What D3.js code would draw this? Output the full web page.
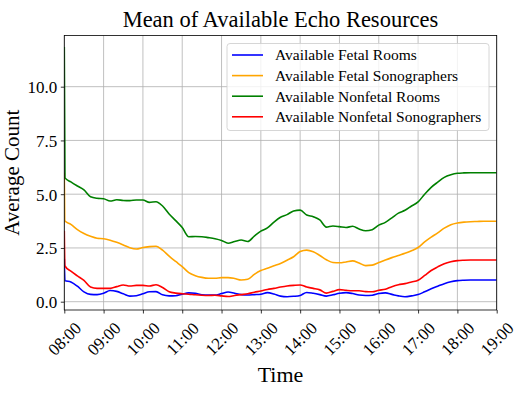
<!DOCTYPE html>
<html>
<head>
<meta charset="utf-8">
<script src="https://cdn.jsdelivr.net/npm/d3@7"></script>
<style>
  body { margin: 0; background: #fff; }
  text { font-family: "Liberation Serif", "DejaVu Serif", serif; fill: #000; }
</style>
</head>
<body>
<svg id="chart"></svg>
<script>
// minutes after 08:00
var minutes = [0, 1, 10, 20, 30, 40, 50, 60, 70, 80, 90, 100, 110, 120, 130, 140, 150, 160, 170, 180,
  190, 200, 210, 220, 230, 240, 250, 260, 270, 280, 290, 300, 310, 320, 330, 340, 350, 360, 370, 380,
  390, 400, 410, 420, 430, 440, 450, 460, 470, 480, 490, 500, 510, 520, 530, 540, 550, 560, 570, 580,
  590, 600, 610, 620, 630, 640, 650, 660];

var fetalRooms = [2.0, 0.98, 0.92, 0.72, 0.46, 0.34, 0.33, 0.39, 0.52, 0.48, 0.37, 0.26, 0.28, 0.37, 0.46, 0.47,
  0.32, 0.27, 0.28, 0.35, 0.41, 0.39, 0.32, 0.31, 0.31, 0.38, 0.45, 0.39, 0.33, 0.31, 0.33, 0.35, 0.42, 0.36,
  0.26, 0.23, 0.25, 0.29, 0.43, 0.39, 0.33, 0.26, 0.32, 0.39, 0.42, 0.38, 0.31, 0.29, 0.3, 0.38, 0.41, 0.34,
  0.27, 0.23, 0.27, 0.33, 0.46, 0.6, 0.72, 0.84, 0.93, 0.98, 1.0, 1.01, 1.01, 1.01, 1.01, 1.01];

var fetalSonographers = [6.0, 3.75, 3.6, 3.35, 3.17, 3.04, 2.95, 2.93, 2.86, 2.76, 2.64, 2.51, 2.45, 2.52, 2.56, 2.58,
  2.4, 2.12, 1.87, 1.63, 1.35, 1.21, 1.13, 1.09, 1.09, 1.12, 1.12, 1.08, 1.01, 1.04, 1.27, 1.45, 1.56, 1.67,
  1.78, 1.93, 2.09, 2.33, 2.4, 2.32, 2.15, 1.95, 1.82, 1.81, 1.85, 1.9, 1.8, 1.68, 1.7, 1.82, 1.94, 2.05,
  2.15, 2.25, 2.37, 2.52, 2.78, 3.0, 3.2, 3.42, 3.58, 3.66, 3.7, 3.72, 3.73, 3.74, 3.74, 3.74];

var nonfetalRooms = [11.85, 5.76, 5.57, 5.38, 5.2, 4.88, 4.81, 4.79, 4.68, 4.74, 4.71, 4.7, 4.73, 4.73, 4.62, 4.65,
  4.45, 4.08, 3.77, 3.45, 3.02, 3.03, 3.02, 2.98, 2.93, 2.85, 2.72, 2.8, 2.87, 2.8, 3.05, 3.28, 3.43, 3.7,
  3.93, 4.05, 4.22, 4.26, 4.03, 3.95, 3.8, 3.47, 3.52, 3.49, 3.45, 3.51, 3.38, 3.3, 3.35, 3.56, 3.69, 3.9,
  4.12, 4.25, 4.45, 4.64, 5.0, 5.32, 5.56, 5.78, 5.9, 5.97, 5.99, 6.0, 6.0, 6.0, 6.0, 6.0];

var nonfetalSonographers = [3.3, 1.66, 1.42, 1.2, 0.99, 0.68, 0.62, 0.62, 0.62, 0.7, 0.78, 0.73, 0.76, 0.76, 0.73, 0.79,
  0.66, 0.46, 0.4, 0.37, 0.35, 0.32, 0.3, 0.29, 0.3, 0.27, 0.24, 0.29, 0.33, 0.37, 0.44, 0.5, 0.57, 0.62,
  0.68, 0.73, 0.76, 0.78, 0.68, 0.62, 0.55, 0.4, 0.48, 0.56, 0.53, 0.51, 0.51, 0.47, 0.46, 0.53, 0.58, 0.7,
  0.79, 0.84, 0.92, 1.0, 1.22, 1.45, 1.62, 1.77, 1.86, 1.91, 1.93, 1.94, 1.94, 1.94, 1.94, 1.94];

var seriesNames = ["Available Fetal Rooms", "Available Fetal Sonographers",
  "Available Nonfetal Rooms", "Available Nonfetal Sonographers"];
var seriesColors = ["#0000ff", "#ffa500", "#008000", "#ff0000"];
var yTicks = [0, 2.5, 5, 7.5, 10];

var width = 531, height = 399;
var plotLeft = 64.3, plotRight = 496.7, plotTop = 35.5, plotBottom = 310;

var svg = d3.select("#chart").attr("width", width).attr("height", height);

var base = new Date(2020, 0, 1, 8, 0);
var x = d3.scaleTime()
  .domain([base, d3.timeMinute.offset(base, 660)])
  .range([plotLeft, plotRight]);
var y = d3.scaleLinear()
  .domain([-0.386, 12.38])
  .range([plotBottom, plotTop]);

var allSeries = [fetalRooms, fetalSonographers, nonfetalRooms, nonfetalSonographers].map(function(vals, i) {
  return {
    name: seriesNames[i],
    color: seriesColors[i],
    values: vals.map(function(v, j) { return { t: d3.timeMinute.offset(base, minutes[j]), v: v }; })
  };
});

// grid
var hours = x.ticks(d3.timeHour.every(1));
svg.append("g").selectAll("line").data(hours).enter().append("line")
  .attr("x1", d => x(d)).attr("x2", d => x(d))
  .attr("y1", plotTop).attr("y2", plotBottom)
  .attr("stroke", "#b0b0b0").attr("stroke-width", 0.8);
svg.append("g").selectAll("line").data(yTicks).enter().append("line")
  .attr("x1", plotLeft).attr("x2", plotRight)
  .attr("y1", d => y(d)).attr("y2", d => y(d))
  .attr("stroke", "#b0b0b0").attr("stroke-width", 0.8);

// lines
svg.append("clipPath").attr("id", "clip").append("rect")
  .attr("x", plotLeft).attr("y", plotTop).attr("width", plotRight - plotLeft).attr("height", plotBottom - plotTop);

var line = d3.line()
  .x(d => x(d.t))
  .y(d => y(d.v))
  .curve(d3.curveMonotoneX);

svg.append("g").attr("clip-path", "url(#clip)")
  .selectAll("path").data(allSeries).enter().append("path")
  .attr("d", d => line(d.values))
  .attr("fill", "none")
  .attr("stroke", d => d.color)
  .attr("stroke-width", 1.6)
  .attr("stroke-linejoin", "round");

// axes
var xAxis = svg.append("g")
  .attr("transform", "translate(0," + plotBottom + ")")
  .call(d3.axisBottom(x).ticks(d3.timeHour.every(1)).tickFormat(d3.timeFormat("%H:%M")).tickSize(3.5).tickSizeOuter(0));
xAxis.select(".domain").remove();
xAxis.selectAll("line").attr("stroke", "#000").attr("stroke-width", 0.8);
xAxis.selectAll("text")
  .attr("y", 0).attr("dy", null)
  .attr("transform", "translate(0,29) rotate(-45)")
  .attr("dominant-baseline", "central")
  .attr("text-anchor", "middle")
  .style("font-size", "17px");

var yAxis = svg.append("g")
  .attr("transform", "translate(" + plotLeft + ",0)")
  .call(d3.axisLeft(y).tickValues(yTicks).tickFormat(d3.format(".1f")).tickSize(3.5).tickPadding(3.5).tickSizeOuter(0));
yAxis.select(".domain").remove();
yAxis.selectAll("line").attr("stroke", "#000").attr("stroke-width", 0.8);
yAxis.selectAll("text").style("font-size", "17px").attr("dy", "0.35em");

// frame
svg.append("rect")
  .attr("x", plotLeft).attr("y", plotTop).attr("width", plotRight - plotLeft).attr("height", plotBottom - plotTop)
  .attr("fill", "none").attr("stroke", "#000").attr("stroke-width", 0.8);

// titles
svg.append("text").attr("x", (plotLeft + plotRight) / 2).attr("y", 27)
  .attr("text-anchor", "middle").style("font-size", "22.5px")
  .text("Mean of Available Echo Resources");
svg.append("text").attr("x", (plotLeft + plotRight) / 2).attr("y", 382)
  .attr("text-anchor", "middle").style("font-size", "22px")
  .text("Time");
svg.append("text")
  .attr("transform", "translate(19," + ((plotTop + plotBottom) / 2) + ") rotate(-90)")
  .attr("text-anchor", "middle").style("font-size", "21px")
  .text("Average Count");

// legend
var legend = svg.append("g");
legend.append("rect")
  .attr("x", 227).attr("y", 43.5).attr("width", 262).attr("height", 87)
  .attr("rx", 3)
  .attr("fill", "#fff").attr("fill-opacity", 0.8)
  .attr("stroke", "#cccccc").attr("stroke-width", 0.8);
var entry = legend.selectAll("g.entry").data(allSeries).enter().append("g")
  .attr("transform", (d, i) => "translate(0," + (55 + i * 20.6) + ")");
entry.append("line")
  .attr("x1", 232).attr("x2", 263)
  .attr("stroke", d => d.color).attr("stroke-width", 1.6);
entry.append("text")
  .attr("x", 275).attr("dy", "0.35em")
  .style("font-size", "15.5px")
  .text(d => d.name);
</script>
</body>
</html>
